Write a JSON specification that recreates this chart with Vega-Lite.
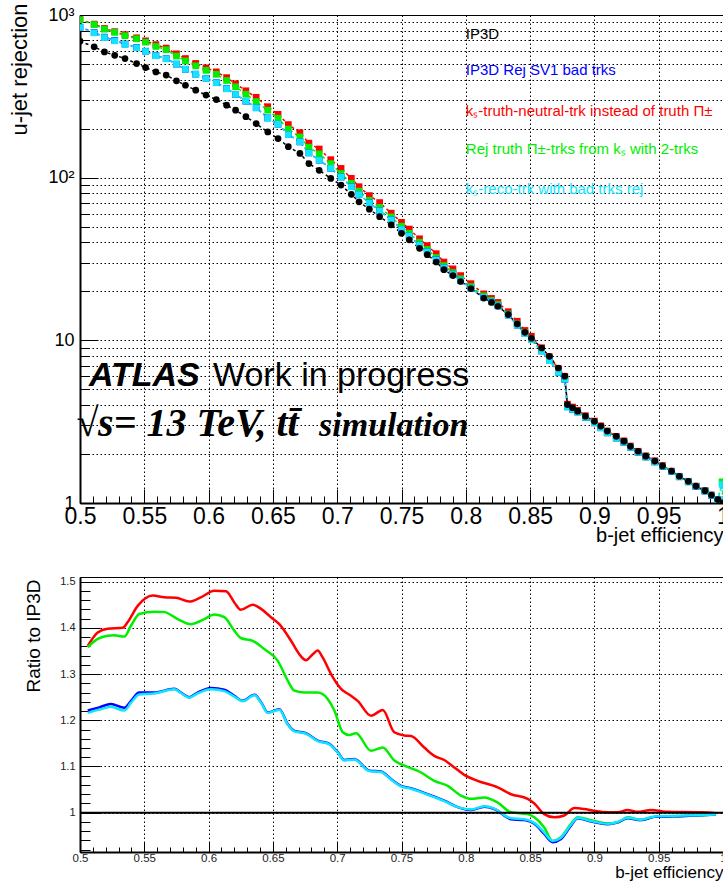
{
"$schema": "https://vega.github.io/schema/vega-lite/v6.json",
"padding": {"left": 7, "top": 2, "right": 0, "bottom": 0},
"spacing": 74,
"bounds": "flush",
"background": "white",
"config": {
 "font": "Liberation Sans",
 "view": {"stroke": "black", "strokeWidth": 1},
 "axis": {"domainColor": "black", "tickColor": "black", "labelColor": "black", "titleColor": "black", "titleFontWeight": "normal", "gridColor": "black", "gridDash": [1.5, 2.5], "gridWidth": 1, "labelOverlap": false, "labelFlush": false, "labelBound": false, "tickWidth": 1}
},
"datasets": {
 "top": [
{"e":0.5,"r":938,"s":"s1"},{"e":0.511,"r":879,"s":"s1"},{"e":0.519,"r":827,"s":"s1"},{"e":0.527,"r":790,"s":"s1"},{"e":0.535,"r":757,"s":"s1"},{"e":0.544,"r":724,"s":"s1"},{"e":0.551,"r":694,"s":"s1"},{"e":0.559,"r":657,"s":"s1"},{"e":0.567,"r":626,"s":"s1"},{"e":0.575,"r":577,"s":"s1"},{"e":0.582,"r":540,"s":"s1"},{"e":0.59,"r":504,"s":"s1"},{"e":0.598,"r":473,"s":"s1"},{"e":0.606,"r":447,"s":"s1"},{"e":0.614,"r":412,"s":"s1"},{"e":0.621,"r":378,"s":"s1"},{"e":0.629,"r":342,"s":"s1"},{"e":0.637,"r":312,"s":"s1"},{"e":0.646,"r":273,"s":"s1"},{"e":0.654,"r":245,"s":"s1"},{"e":0.662,"r":212,"s":"s1"},{"e":0.671,"r":189,"s":"s1"},{"e":0.678,"r":163,"s":"s1"},{"e":0.686,"r":150,"s":"s1"},{"e":0.695,"r":129,"s":"s1"},{"e":0.703,"r":114,"s":"s1"},{"e":0.711,"r":99,"s":"s1"},{"e":0.717,"r":88,"s":"s1"},{"e":0.725,"r":77.6,"s":"s1"},{"e":0.733,"r":70.3,"s":"s1"},{"e":0.742,"r":60.5,"s":"s1"},{"e":0.75,"r":53.1,"s":"s1"},{"e":0.756,"r":48.3,"s":"s1"},{"e":0.764,"r":42.1,"s":"s1"},{"e":0.77,"r":38.2,"s":"s1"},{"e":0.777,"r":34.1,"s":"s1"},{"e":0.783,"r":30.3,"s":"s1"},{"e":0.79,"r":27.5,"s":"s1"},{"e":0.796,"r":25,"s":"s1"},{"e":0.804,"r":22.3,"s":"s1"},{"e":0.814,"r":19.3,"s":"s1"},{"e":0.82,"r":18.1,"s":"s1"},{"e":0.825,"r":17.1,"s":"s1"},{"e":0.833,"r":15,"s":"s1"},{"e":0.84,"r":13.1,"s":"s1"},{"e":0.846,"r":11.5,"s":"s1"},{"e":0.851,"r":10.6,"s":"s1"},{"e":0.859,"r":9,"s":"s1"},{"e":0.865,"r":7.92,"s":"s1"},{"e":0.872,"r":6.7,"s":"s1"},{"e":0.877,"r":6,"s":"s1"},{"e":0.879,"r":4.05,"s":"s1"},{"e":0.883,"r":3.89,"s":"s1"},{"e":0.887,"r":3.71,"s":"s1"},{"e":0.893,"r":3.44,"s":"s1"},{"e":0.9,"r":3.19,"s":"s1"},{"e":0.905,"r":2.98,"s":"s1"},{"e":0.91,"r":2.77,"s":"s1"},{"e":0.917,"r":2.57,"s":"s1"},{"e":0.923,"r":2.41,"s":"s1"},{"e":0.928,"r":2.24,"s":"s1"},{"e":0.934,"r":2.08,"s":"s1"},{"e":0.94,"r":1.95,"s":"s1"},{"e":0.947,"r":1.82,"s":"s1"},{"e":0.953,"r":1.7,"s":"s1"},{"e":0.96,"r":1.57,"s":"s1"},{"e":0.966,"r":1.46,"s":"s1"},{"e":0.973,"r":1.36,"s":"s1"},{"e":0.979,"r":1.27,"s":"s1"},{"e":0.986,"r":1.19,"s":"s1"},{"e":0.991,"r":1.12,"s":"s1"},{"e":0.996,"r":1.05,"s":"s1"},{"e":1,"r":1,"s":"s1"},
{"e":0.5,"r":935,"s":"s2"},{"e":0.511,"r":873,"s":"s2"},{"e":0.519,"r":818,"s":"s2"},{"e":0.527,"r":782,"s":"s2"},{"e":0.535,"r":746,"s":"s2"},{"e":0.544,"r":714,"s":"s2"},{"e":0.551,"r":681,"s":"s2"},{"e":0.559,"r":641,"s":"s2"},{"e":0.567,"r":612,"s":"s2"},{"e":0.575,"r":559,"s":"s2"},{"e":0.582,"r":522,"s":"s2"},{"e":0.59,"r":487,"s":"s2"},{"e":0.598,"r":457,"s":"s2"},{"e":0.606,"r":432,"s":"s2"},{"e":0.614,"r":396,"s":"s2"},{"e":0.621,"r":362,"s":"s2"},{"e":0.629,"r":326,"s":"s2"},{"e":0.637,"r":294,"s":"s2"},{"e":0.646,"r":260,"s":"s2"},{"e":0.654,"r":232,"s":"s2"},{"e":0.662,"r":199,"s":"s2"},{"e":0.671,"r":178,"s":"s2"},{"e":0.678,"r":154,"s":"s2"},{"e":0.686,"r":140,"s":"s2"},{"e":0.695,"r":122,"s":"s2"},{"e":0.703,"r":106,"s":"s2"},{"e":0.711,"r":92.4,"s":"s2"},{"e":0.717,"r":82.7,"s":"s2"},{"e":0.725,"r":72.6,"s":"s2"},{"e":0.733,"r":65.7,"s":"s2"},{"e":0.742,"r":57.4,"s":"s2"},{"e":0.75,"r":50.3,"s":"s2"},{"e":0.756,"r":45.5,"s":"s2"},{"e":0.764,"r":40.1,"s":"s2"},{"e":0.77,"r":36.2,"s":"s2"},{"e":0.777,"r":32.3,"s":"s2"},{"e":0.783,"r":28.8,"s":"s2"},{"e":0.79,"r":26.1,"s":"s2"},{"e":0.796,"r":23.9,"s":"s2"},{"e":0.804,"r":21.4,"s":"s2"},{"e":0.814,"r":18.8,"s":"s2"},{"e":0.82,"r":17.6,"s":"s2"},{"e":0.825,"r":16.6,"s":"s2"},{"e":0.833,"r":14.5,"s":"s2"},{"e":0.84,"r":12.6,"s":"s2"},{"e":0.846,"r":11.2,"s":"s2"},{"e":0.851,"r":10.2,"s":"s2"},{"e":0.859,"r":8.75,"s":"s2"},{"e":0.865,"r":7.54,"s":"s2"},{"e":0.872,"r":6.38,"s":"s2"},{"e":0.877,"r":5.78,"s":"s2"},{"e":0.879,"r":3.92,"s":"s2"},{"e":0.883,"r":3.77,"s":"s2"},{"e":0.887,"r":3.63,"s":"s2"},{"e":0.893,"r":3.37,"s":"s2"},{"e":0.9,"r":3.12,"s":"s2"},{"e":0.905,"r":2.91,"s":"s2"},{"e":0.91,"r":2.71,"s":"s2"},{"e":0.917,"r":2.51,"s":"s2"},{"e":0.923,"r":2.37,"s":"s2"},{"e":0.928,"r":2.21,"s":"s2"},{"e":0.934,"r":2.05,"s":"s2"},{"e":0.94,"r":1.92,"s":"s2"},{"e":0.947,"r":1.79,"s":"s2"},{"e":0.953,"r":1.68,"s":"s2"},{"e":0.96,"r":1.56,"s":"s2"},{"e":0.966,"r":1.45,"s":"s2"},{"e":0.973,"r":1.35,"s":"s2"},{"e":0.979,"r":1.265,"s":"s2"},{"e":0.986,"r":1.185,"s":"s2"},{"e":0.991,"r":1.115,"s":"s2"},{"e":0.996,"r":1.045,"s":"s2"},{"e":0.9993,"r":1.35,"s":"s2"},{"e":1,"r":1,"s":"s2"},
{"e":0.5,"r":842,"s":"s3"},{"e":0.511,"r":780,"s":"s3"},{"e":0.519,"r":731,"s":"s3"},{"e":0.527,"r":698,"s":"s3"},{"e":0.535,"r":663,"s":"s3"},{"e":0.544,"r":631,"s":"s3"},{"e":0.551,"r":599,"s":"s3"},{"e":0.559,"r":563,"s":"s3"},{"e":0.567,"r":539,"s":"s3"},{"e":0.575,"r":499,"s":"s3"},{"e":0.582,"r":464,"s":"s3"},{"e":0.59,"r":433,"s":"s3"},{"e":0.598,"r":408,"s":"s3"},{"e":0.606,"r":384,"s":"s3"},{"e":0.614,"r":353,"s":"s3"},{"e":0.621,"r":325,"s":"s3"},{"e":0.629,"r":295,"s":"s3"},{"e":0.637,"r":269,"s":"s3"},{"e":0.646,"r":233,"s":"s3"},{"e":0.654,"r":213,"s":"s3"},{"e":0.662,"r":184,"s":"s3"},{"e":0.671,"r":166,"s":"s3"},{"e":0.678,"r":142,"s":"s3"},{"e":0.686,"r":128,"s":"s3"},{"e":0.695,"r":114,"s":"s3"},{"e":0.703,"r":101,"s":"s3"},{"e":0.711,"r":88.1,"s":"s3"},{"e":0.717,"r":79,"s":"s3"},{"e":0.725,"r":69.9,"s":"s3"},{"e":0.733,"r":62.7,"s":"s3"},{"e":0.742,"r":55.1,"s":"s3"},{"e":0.75,"r":48.1,"s":"s3"},{"e":0.756,"r":43.7,"s":"s3"},{"e":0.764,"r":38.5,"s":"s3"},{"e":0.77,"r":34.9,"s":"s3"},{"e":0.777,"r":31.3,"s":"s3"},{"e":0.783,"r":27.9,"s":"s3"},{"e":0.79,"r":25.5,"s":"s3"},{"e":0.796,"r":23.3,"s":"s3"},{"e":0.804,"r":20.9,"s":"s3"},{"e":0.814,"r":18.4,"s":"s3"},{"e":0.82,"r":17.3,"s":"s3"},{"e":0.825,"r":16.3,"s":"s3"},{"e":0.833,"r":14.3,"s":"s3"},{"e":0.84,"r":12.4,"s":"s3"},{"e":0.846,"r":11,"s":"s3"},{"e":0.851,"r":10.1,"s":"s3"},{"e":0.859,"r":8.6,"s":"s3"},{"e":0.865,"r":7.5,"s":"s3"},{"e":0.872,"r":6.35,"s":"s3"},{"e":0.877,"r":5.76,"s":"s3"},{"e":0.879,"r":3.9,"s":"s3"},{"e":0.883,"r":3.76,"s":"s3"},{"e":0.887,"r":3.63,"s":"s3"},{"e":0.893,"r":3.36,"s":"s3"},{"e":0.9,"r":3.11,"s":"s3"},{"e":0.905,"r":2.9,"s":"s3"},{"e":0.91,"r":2.7,"s":"s3"},{"e":0.917,"r":2.51,"s":"s3"},{"e":0.923,"r":2.36,"s":"s3"},{"e":0.928,"r":2.2,"s":"s3"},{"e":0.934,"r":2.05,"s":"s3"},{"e":0.94,"r":1.92,"s":"s3"},{"e":0.947,"r":1.79,"s":"s3"},{"e":0.953,"r":1.68,"s":"s3"},{"e":0.96,"r":1.56,"s":"s3"},{"e":0.966,"r":1.45,"s":"s3"},{"e":0.973,"r":1.35,"s":"s3"},{"e":0.979,"r":1.265,"s":"s3"},{"e":0.986,"r":1.185,"s":"s3"},{"e":0.991,"r":1.115,"s":"s3"},{"e":0.996,"r":1.045,"s":"s3"},{"e":1,"r":1,"s":"s3"},
{"e":0.5,"r":838,"s":"s4"},{"e":0.511,"r":777,"s":"s4"},{"e":0.519,"r":727,"s":"s4"},{"e":0.527,"r":694,"s":"s4"},{"e":0.535,"r":660,"s":"s4"},{"e":0.544,"r":629,"s":"s4"},{"e":0.551,"r":597,"s":"s4"},{"e":0.559,"r":562,"s":"s4"},{"e":0.567,"r":538,"s":"s4"},{"e":0.575,"r":499,"s":"s4"},{"e":0.582,"r":464,"s":"s4"},{"e":0.59,"r":432,"s":"s4"},{"e":0.598,"r":407,"s":"s4"},{"e":0.606,"r":383,"s":"s4"},{"e":0.614,"r":352,"s":"s4"},{"e":0.621,"r":325,"s":"s4"},{"e":0.629,"r":295,"s":"s4"},{"e":0.637,"r":269,"s":"s4"},{"e":0.646,"r":232,"s":"s4"},{"e":0.654,"r":213,"s":"s4"},{"e":0.662,"r":184,"s":"s4"},{"e":0.671,"r":166,"s":"s4"},{"e":0.678,"r":142,"s":"s4"},{"e":0.686,"r":128,"s":"s4"},{"e":0.695,"r":114,"s":"s4"},{"e":0.703,"r":101,"s":"s4"},{"e":0.711,"r":87.9,"s":"s4"},{"e":0.717,"r":78.8,"s":"s4"},{"e":0.725,"r":69.8,"s":"s4"},{"e":0.733,"r":62.6,"s":"s4"},{"e":0.742,"r":55,"s":"s4"},{"e":0.75,"r":48,"s":"s4"},{"e":0.756,"r":43.7,"s":"s4"},{"e":0.764,"r":38.5,"s":"s4"},{"e":0.77,"r":34.9,"s":"s4"},{"e":0.777,"r":31.2,"s":"s4"},{"e":0.783,"r":27.9,"s":"s4"},{"e":0.79,"r":25.4,"s":"s4"},{"e":0.796,"r":23.3,"s":"s4"},{"e":0.804,"r":20.9,"s":"s4"},{"e":0.814,"r":18.4,"s":"s4"},{"e":0.82,"r":17.3,"s":"s4"},{"e":0.825,"r":16.3,"s":"s4"},{"e":0.833,"r":14.3,"s":"s4"},{"e":0.84,"r":12.4,"s":"s4"},{"e":0.846,"r":11,"s":"s4"},{"e":0.851,"r":10.1,"s":"s4"},{"e":0.859,"r":8.6,"s":"s4"},{"e":0.865,"r":7.5,"s":"s4"},{"e":0.872,"r":6.35,"s":"s4"},{"e":0.877,"r":5.76,"s":"s4"},{"e":0.879,"r":3.9,"s":"s4"},{"e":0.883,"r":3.76,"s":"s4"},{"e":0.887,"r":3.63,"s":"s4"},{"e":0.893,"r":3.36,"s":"s4"},{"e":0.9,"r":3.11,"s":"s4"},{"e":0.905,"r":2.9,"s":"s4"},{"e":0.91,"r":2.7,"s":"s4"},{"e":0.917,"r":2.51,"s":"s4"},{"e":0.923,"r":2.36,"s":"s4"},{"e":0.928,"r":2.2,"s":"s4"},{"e":0.934,"r":2.05,"s":"s4"},{"e":0.94,"r":1.92,"s":"s4"},{"e":0.947,"r":1.79,"s":"s4"},{"e":0.953,"r":1.68,"s":"s4"},{"e":0.96,"r":1.56,"s":"s4"},{"e":0.966,"r":1.45,"s":"s4"},{"e":0.973,"r":1.35,"s":"s4"},{"e":0.979,"r":1.265,"s":"s4"},{"e":0.986,"r":1.185,"s":"s4"},{"e":0.991,"r":1.115,"s":"s4"},{"e":0.996,"r":1.045,"s":"s4"},{"e":0.9993,"r":1.3,"s":"s4"},{"e":1,"r":1,"s":"s4"},
{"e":0.5,"r":690,"s":"s5"},{"e":0.511,"r":637,"s":"s5"},{"e":0.519,"r":593,"s":"s5"},{"e":0.527,"r":565,"s":"s5"},{"e":0.535,"r":540,"s":"s5"},{"e":0.544,"r":503,"s":"s5"},{"e":0.551,"r":475,"s":"s5"},{"e":0.559,"r":447,"s":"s5"},{"e":0.567,"r":427,"s":"s5"},{"e":0.575,"r":394,"s":"s5"},{"e":0.582,"r":370,"s":"s5"},{"e":0.59,"r":345,"s":"s5"},{"e":0.598,"r":322,"s":"s5"},{"e":0.606,"r":302,"s":"s5"},{"e":0.614,"r":279,"s":"s5"},{"e":0.621,"r":260,"s":"s5"},{"e":0.629,"r":237,"s":"s5"},{"e":0.637,"r":215,"s":"s5"},{"e":0.646,"r":191,"s":"s5"},{"e":0.654,"r":174,"s":"s5"},{"e":0.662,"r":155,"s":"s5"},{"e":0.671,"r":141,"s":"s5"},{"e":0.678,"r":122,"s":"s5"},{"e":0.686,"r":111,"s":"s5"},{"e":0.695,"r":99,"s":"s5"},{"e":0.703,"r":90,"s":"s5"},{"e":0.711,"r":79,"s":"s5"},{"e":0.717,"r":71,"s":"s5"},{"e":0.725,"r":64,"s":"s5"},{"e":0.733,"r":57.6,"s":"s5"},{"e":0.742,"r":51.3,"s":"s5"},{"e":0.75,"r":45.5,"s":"s5"},{"e":0.756,"r":41.5,"s":"s5"},{"e":0.764,"r":36.8,"s":"s5"},{"e":0.77,"r":33.6,"s":"s5"},{"e":0.777,"r":30.3,"s":"s5"},{"e":0.783,"r":27.2,"s":"s5"},{"e":0.79,"r":25,"s":"s5"},{"e":0.796,"r":23,"s":"s5"},{"e":0.804,"r":20.8,"s":"s5"},{"e":0.814,"r":18.2,"s":"s5"},{"e":0.82,"r":17.1,"s":"s5"},{"e":0.825,"r":16.2,"s":"s5"},{"e":0.833,"r":14.4,"s":"s5"},{"e":0.84,"r":12.6,"s":"s5"},{"e":0.846,"r":11.2,"s":"s5"},{"e":0.851,"r":10.3,"s":"s5"},{"e":0.859,"r":8.97,"s":"s5"},{"e":0.865,"r":7.98,"s":"s5"},{"e":0.872,"r":6.76,"s":"s5"},{"e":0.877,"r":6.02,"s":"s5"},{"e":0.879,"r":4.03,"s":"s5"},{"e":0.883,"r":3.85,"s":"s5"},{"e":0.887,"r":3.67,"s":"s5"},{"e":0.893,"r":3.42,"s":"s5"},{"e":0.9,"r":3.18,"s":"s5"},{"e":0.905,"r":2.97,"s":"s5"},{"e":0.91,"r":2.77,"s":"s5"},{"e":0.917,"r":2.57,"s":"s5"},{"e":0.923,"r":2.4,"s":"s5"},{"e":0.928,"r":2.23,"s":"s5"},{"e":0.934,"r":2.08,"s":"s5"},{"e":0.94,"r":1.94,"s":"s5"},{"e":0.947,"r":1.81,"s":"s5"},{"e":0.953,"r":1.69,"s":"s5"},{"e":0.96,"r":1.57,"s":"s5"},{"e":0.966,"r":1.46,"s":"s5"},{"e":0.973,"r":1.36,"s":"s5"},{"e":0.979,"r":1.27,"s":"s5"},{"e":0.986,"r":1.19,"s":"s5"},{"e":0.991,"r":1.12,"s":"s5"},{"e":0.996,"r":1.05,"s":"s5"},{"e":1,"r":1,"s":"s5"}
 ],
 "legend": [
{"e":0.8,"r":768,"s":"s5","t":"IP3D"},
{"e":0.8,"r":458,"s":"s3","t":"IP3D Rej SV1 bad trks"},
{"e":0.8,"r":258,"s":"s1","t":"kₛ-truth-neutral-trk instead of truth Π±"},
{"e":0.8,"r":149,"s":"s2","t":"Rej truth Π±-trks from kₛ with 2-trks"},
{"e":0.8,"r":84.8,"s":"s4","t":"kₛ-reco-trk with bad trks rej"}
 ],
 "ratio": [
{"e":0.506,"v":1.361,"s":"s1"},{"e":0.5138,"v":1.39,"s":"s1"},{"e":0.5215,"v":1.398,"s":"s1"},{"e":0.5332,"v":1.4,"s":"s1"},{"e":0.537,"v":1.412,"s":"s1"},{"e":0.545,"v":1.448,"s":"s1"},{"e":0.5565,"v":1.47,"s":"s1"},{"e":0.5656,"v":1.466,"s":"s1"},{"e":0.5747,"v":1.465,"s":"s1"},{"e":0.585,"v":1.457,"s":"s1"},{"e":0.594,"v":1.466,"s":"s1"},{"e":0.6044,"v":1.48,"s":"s1"},{"e":0.6135,"v":1.479,"s":"s1"},{"e":0.62,"v":1.455,"s":"s1"},{"e":0.625,"v":1.439,"s":"s1"},{"e":0.6343,"v":1.45,"s":"s1"},{"e":0.6408,"v":1.441,"s":"s1"},{"e":0.6485,"v":1.423,"s":"s1"},{"e":0.655,"v":1.408,"s":"s1"},{"e":0.6641,"v":1.372,"s":"s1"},{"e":0.6705,"v":1.343,"s":"s1"},{"e":0.6757,"v":1.33,"s":"s1"},{"e":0.681,"v":1.343,"s":"s1"},{"e":0.6848,"v":1.351,"s":"s1"},{"e":0.6887,"v":1.336,"s":"s1"},{"e":0.6952,"v":1.3,"s":"s1"},{"e":0.703,"v":1.268,"s":"s1"},{"e":0.7107,"v":1.253,"s":"s1"},{"e":0.7159,"v":1.242,"s":"s1"},{"e":0.7263,"v":1.21,"s":"s1"},{"e":0.7354,"v":1.222,"s":"s1"},{"e":0.7444,"v":1.174,"s":"s1"},{"e":0.7522,"v":1.167,"s":"s1"},{"e":0.7574,"v":1.166,"s":"s1"},{"e":0.7677,"v":1.141,"s":"s1"},{"e":0.7755,"v":1.123,"s":"s1"},{"e":0.7833,"v":1.114,"s":"s1"},{"e":0.7911,"v":1.098,"s":"s1"},{"e":0.7988,"v":1.082,"s":"s1"},{"e":0.8092,"v":1.069,"s":"s1"},{"e":0.8248,"v":1.055,"s":"s1"},{"e":0.8352,"v":1.04,"s":"s1"},{"e":0.8481,"v":1.03,"s":"s1"},{"e":0.8533,"v":1.02,"s":"s1"},{"e":0.861,"v":0.997,"s":"s1"},{"e":0.8688,"v":0.99,"s":"s1"},{"e":0.8766,"v":0.994,"s":"s1"},{"e":0.8844,"v":1.01,"s":"s1"},{"e":0.8921,"v":1.008,"s":"s1"},{"e":0.9,"v":1.004,"s":"s1"},{"e":0.9103,"v":1.001,"s":"s1"},{"e":0.9181,"v":1.001,"s":"s1"},{"e":0.9258,"v":1.006,"s":"s1"},{"e":0.9336,"v":1.002,"s":"s1"},{"e":0.944,"v":1.006,"s":"s1"},{"e":0.957,"v":1.002,"s":"s1"},{"e":0.983,"v":1.001,"s":"s1"},{"e":0.9946,"v":0.999,"s":"s1"},
{"e":0.506,"v":1.358,"s":"s2"},{"e":0.5138,"v":1.376,"s":"s2"},{"e":0.5215,"v":1.383,"s":"s2"},{"e":0.5267,"v":1.384,"s":"s2"},{"e":0.5345,"v":1.381,"s":"s2"},{"e":0.5397,"v":1.405,"s":"s2"},{"e":0.5461,"v":1.43,"s":"s2"},{"e":0.5578,"v":1.435,"s":"s2"},{"e":0.5656,"v":1.434,"s":"s2"},{"e":0.576,"v":1.419,"s":"s2"},{"e":0.5863,"v":1.408,"s":"s2"},{"e":0.5967,"v":1.419,"s":"s2"},{"e":0.6044,"v":1.429,"s":"s2"},{"e":0.6122,"v":1.423,"s":"s2"},{"e":0.62,"v":1.394,"s":"s2"},{"e":0.625,"v":1.378,"s":"s2"},{"e":0.6343,"v":1.372,"s":"s2"},{"e":0.6433,"v":1.354,"s":"s2"},{"e":0.6537,"v":1.329,"s":"s2"},{"e":0.6615,"v":1.286,"s":"s2"},{"e":0.6667,"v":1.264,"s":"s2"},{"e":0.6744,"v":1.26,"s":"s2"},{"e":0.6848,"v":1.26,"s":"s2"},{"e":0.6926,"v":1.246,"s":"s2"},{"e":0.6978,"v":1.221,"s":"s2"},{"e":0.7043,"v":1.174,"s":"s2"},{"e":0.7094,"v":1.168,"s":"s2"},{"e":0.7146,"v":1.172,"s":"s2"},{"e":0.7263,"v":1.134,"s":"s2"},{"e":0.7354,"v":1.141,"s":"s2"},{"e":0.7444,"v":1.113,"s":"s2"},{"e":0.7496,"v":1.105,"s":"s2"},{"e":0.7652,"v":1.087,"s":"s2"},{"e":0.7755,"v":1.069,"s":"s2"},{"e":0.7859,"v":1.058,"s":"s2"},{"e":0.7963,"v":1.037,"s":"s2"},{"e":0.804,"v":1.03,"s":"s2"},{"e":0.8144,"v":1.033,"s":"s2"},{"e":0.8248,"v":1.022,"s":"s2"},{"e":0.8352,"v":1.001,"s":"s2"},{"e":0.8481,"v":0.997,"s":"s2"},{"e":0.8533,"v":0.99,"s":"s2"},{"e":0.861,"v":0.968,"s":"s2"},{"e":0.8675,"v":0.939,"s":"s2"},{"e":0.874,"v":0.947,"s":"s2"},{"e":0.8818,"v":0.976,"s":"s2"},{"e":0.887,"v":0.99,"s":"s2"},{"e":0.8974,"v":0.984,"s":"s2"},{"e":0.9103,"v":0.977,"s":"s2"},{"e":0.9181,"v":0.979,"s":"s2"},{"e":0.9258,"v":0.99,"s":"s2"},{"e":0.9362,"v":0.984,"s":"s2"},{"e":0.9466,"v":0.991,"s":"s2"},{"e":0.9699,"v":0.993,"s":"s2"},{"e":0.9946,"v":0.996,"s":"s2"},
{"e":0.506,"v":1.221,"s":"s3"},{"e":0.515,"v":1.228,"s":"s3"},{"e":0.524,"v":1.235,"s":"s3"},{"e":0.5345,"v":1.227,"s":"s3"},{"e":0.5397,"v":1.242,"s":"s3"},{"e":0.5461,"v":1.26,"s":"s3"},{"e":0.5578,"v":1.26,"s":"s3"},{"e":0.5733,"v":1.268,"s":"s3"},{"e":0.5785,"v":1.26,"s":"s3"},{"e":0.585,"v":1.25,"s":"s3"},{"e":0.5915,"v":1.26,"s":"s3"},{"e":0.6019,"v":1.27,"s":"s3"},{"e":0.6122,"v":1.266,"s":"s3"},{"e":0.62,"v":1.253,"s":"s3"},{"e":0.6265,"v":1.242,"s":"s3"},{"e":0.6356,"v":1.255,"s":"s3"},{"e":0.6408,"v":1.239,"s":"s3"},{"e":0.646,"v":1.217,"s":"s3"},{"e":0.655,"v":1.224,"s":"s3"},{"e":0.6615,"v":1.192,"s":"s3"},{"e":0.6667,"v":1.177,"s":"s3"},{"e":0.6757,"v":1.172,"s":"s3"},{"e":0.6848,"v":1.156,"s":"s3"},{"e":0.6939,"v":1.149,"s":"s3"},{"e":0.7004,"v":1.131,"s":"s3"},{"e":0.7055,"v":1.114,"s":"s3"},{"e":0.7133,"v":1.116,"s":"s3"},{"e":0.725,"v":1.091,"s":"s3"},{"e":0.734,"v":1.089,"s":"s3"},{"e":0.7418,"v":1.073,"s":"s3"},{"e":0.7496,"v":1.058,"s":"s3"},{"e":0.7574,"v":1.053,"s":"s3"},{"e":0.7704,"v":1.04,"s":"s3"},{"e":0.7833,"v":1.026,"s":"s3"},{"e":0.7937,"v":1.012,"s":"s3"},{"e":0.804,"v":1.006,"s":"s3"},{"e":0.8144,"v":1.013,"s":"s3"},{"e":0.8222,"v":1.008,"s":"s3"},{"e":0.8352,"v":0.986,"s":"s3"},{"e":0.8456,"v":0.984,"s":"s3"},{"e":0.8533,"v":0.976,"s":"s3"},{"e":0.861,"v":0.954,"s":"s3"},{"e":0.8675,"v":0.936,"s":"s3"},{"e":0.874,"v":0.943,"s":"s3"},{"e":0.8818,"v":0.972,"s":"s3"},{"e":0.887,"v":0.988,"s":"s3"},{"e":0.8974,"v":0.981,"s":"s3"},{"e":0.9103,"v":0.975,"s":"s3"},{"e":0.9181,"v":0.979,"s":"s3"},{"e":0.9258,"v":0.988,"s":"s3"},{"e":0.9362,"v":0.984,"s":"s3"},{"e":0.9466,"v":0.991,"s":"s3"},{"e":0.9699,"v":0.993,"s":"s3"},{"e":0.9946,"v":0.996,"s":"s3"},
{"e":0.506,"v":1.216,"s":"s4"},{"e":0.515,"v":1.223,"s":"s4"},{"e":0.524,"v":1.229,"s":"s4"},{"e":0.5345,"v":1.221,"s":"s4"},{"e":0.5397,"v":1.238,"s":"s4"},{"e":0.5461,"v":1.256,"s":"s4"},{"e":0.5578,"v":1.258,"s":"s4"},{"e":0.5733,"v":1.267,"s":"s4"},{"e":0.5785,"v":1.259,"s":"s4"},{"e":0.585,"v":1.249,"s":"s4"},{"e":0.5915,"v":1.258,"s":"s4"},{"e":0.6019,"v":1.267,"s":"s4"},{"e":0.6122,"v":1.263,"s":"s4"},{"e":0.62,"v":1.251,"s":"s4"},{"e":0.6265,"v":1.241,"s":"s4"},{"e":0.6356,"v":1.254,"s":"s4"},{"e":0.6408,"v":1.238,"s":"s4"},{"e":0.646,"v":1.216,"s":"s4"},{"e":0.655,"v":1.223,"s":"s4"},{"e":0.6615,"v":1.191,"s":"s4"},{"e":0.6667,"v":1.176,"s":"s4"},{"e":0.6757,"v":1.171,"s":"s4"},{"e":0.6848,"v":1.155,"s":"s4"},{"e":0.6939,"v":1.148,"s":"s4"},{"e":0.7004,"v":1.13,"s":"s4"},{"e":0.7055,"v":1.113,"s":"s4"},{"e":0.7133,"v":1.115,"s":"s4"},{"e":0.725,"v":1.09,"s":"s4"},{"e":0.734,"v":1.088,"s":"s4"},{"e":0.7418,"v":1.072,"s":"s4"},{"e":0.7496,"v":1.057,"s":"s4"},{"e":0.7574,"v":1.052,"s":"s4"},{"e":0.7704,"v":1.039,"s":"s4"},{"e":0.7833,"v":1.025,"s":"s4"},{"e":0.7937,"v":1.012,"s":"s4"},{"e":0.804,"v":1.007,"s":"s4"},{"e":0.8144,"v":1.014,"s":"s4"},{"e":0.8222,"v":1.009,"s":"s4"},{"e":0.8352,"v":0.988,"s":"s4"},{"e":0.8456,"v":0.986,"s":"s4"},{"e":0.8533,"v":0.978,"s":"s4"},{"e":0.861,"v":0.957,"s":"s4"},{"e":0.8675,"v":0.939,"s":"s4"},{"e":0.874,"v":0.946,"s":"s4"},{"e":0.8818,"v":0.974,"s":"s4"},{"e":0.887,"v":0.989,"s":"s4"},{"e":0.8974,"v":0.982,"s":"s4"},{"e":0.9103,"v":0.976,"s":"s4"},{"e":0.9181,"v":0.98,"s":"s4"},{"e":0.9258,"v":0.989,"s":"s4"},{"e":0.9362,"v":0.985,"s":"s4"},{"e":0.9466,"v":0.992,"s":"s4"},{"e":0.9699,"v":0.994,"s":"s4"},{"e":0.9946,"v":0.996,"s":"s4"}
 ]
},
"vconcat": [
 {
  "width": 643,
  "height": 488,
  "encoding": {
   "x": {"field": "e", "type": "quantitative", "scale": {"domain": [0.5, 1], "nice": false, "zero": false},
    "axis": {
     "values": [0.5,0.51,0.52,0.53,0.54,0.55,0.56,0.57,0.58,0.59,0.6,0.61,0.62,0.63,0.64,0.65,0.66,0.67,0.68,0.69,0.7,0.71,0.72,0.73,0.74,0.75,0.76,0.77,0.78,0.79,0.8,0.81,0.82,0.83,0.84,0.85,0.86,0.87,0.88,0.89,0.9,0.91,0.92,0.93,0.94,0.95,0.96,0.97,0.98,0.99,1],
     "labelExpr": "abs(datum.value*20 - round(datum.value*20)) < 0.001 ? format(datum.value, '.2~f') : ''",
     "labelFontSize": 23, "labelPadding": 16, "labelOverlap": false, "labelFlush": false,
     "tickSize": {"condition": {"test": "abs(datum.value*20 - round(datum.value*20)) < 0.001", "value": -14}, "value": -7},
     "gridOpacity": {"condition": {"test": "abs(datum.value*20 - round(datum.value*20)) < 0.001", "value": 1}, "value": 0},
     "domainWidth": 2,
     "title": "b-jet efficiency", "titleFontSize": 20, "titleAnchor": "end", "titleAlign": "right", "titleX": 643, "titleY": 38, "titleBaseline": "alphabetic"
    }},
   "y": {"field": "r", "type": "quantitative", "scale": {"type": "log", "domain": [1, 1000], "nice": false},
    "axis": {
     "values": [1,2,3,4,5,6,7,8,9,10,20,30,40,50,60,70,80,90,100,200,300,400,500,600,700,800,900,1000],
     "labelExpr": "datum.value == 1 ? '1' : datum.value == 10 ? '10' : datum.value == 100 ? '10²' : datum.value == 1000 ? '10³' : ''",
     "labelFontSize": 18, "labelPadding": 24, "labelOverlap": false,
     "tickSize": {"condition": {"test": "abs(log(datum.value)/LN10 - round(log(datum.value)/LN10)) < 0.001", "value": -18}, "value": -9},
     "domainWidth": 2,
     "title": "u-jet rejection", "titleFontSize": 22, "titleAngle": 270, "titleAnchor": "end", "titleAlign": "right", "titleBaseline": "alphabetic", "titleX": -54, "titleY": -12
    }}
  },
  "layer": [
   {
    "data": {"name": "top"},
    "mark": {"type": "line", "strokeDash": [3, 3], "strokeWidth": 1.5, "clip": true},
    "encoding": {
     "color": {"field": "s", "type": "nominal", "legend": null, "scale": {"domain": ["s1","s2","s3","s4","s5"], "range": ["#ff0000","#00ee00","#0000ff","#10e4ff","#000000"]}}
    }
   },
   {
    "data": {"name": "top"},
    "mark": {"type": "point", "filled": true, "opacity": 1, "size": 45, "clip": true},
    "encoding": {
     "color": {"field": "s", "type": "nominal", "legend": null},
     "shape": {"field": "s", "type": "nominal", "legend": null, "scale": {"domain": ["s1","s2","s3","s4","s5"], "range": ["square","square","square","square","circle"]}}
    }
   },
   {
    "data": {"name": "legend"},
    "mark": {"type": "text", "align": "left", "baseline": "middle", "fontSize": 15},
    "encoding": {
     "text": {"field": "t"},
     "color": {"field": "s", "type": "nominal", "legend": null}
    }
   },
   {
    "data": {"values": [{"e": 0.507, "r": 5.22}]},
    "mark": {"type": "text", "text": "ATLAS", "align": "left", "baseline": "alphabetic", "fontSize": 34, "fontWeight": "bold", "fontStyle": "italic", "color": "black"}
   },
   {
    "data": {"values": [{"e": 0.6034, "r": 5.22}]},
    "mark": {"type": "text", "text": "Work in progress", "align": "left", "baseline": "alphabetic", "fontSize": 34, "color": "black"}
   },
   {
    "data": {"values": [{"e": 0.497, "r": 2.576}]},
    "mark": {"type": "text", "text": "√s= 13 TeV, tt̄", "align": "left", "baseline": "alphabetic", "fontSize": 40, "font": "Liberation Serif", "fontWeight": "bold", "fontStyle": "italic", "color": "black"}
   },
   {
    "data": {"values": [{"e": 0.6859, "r": 2.576}]},
    "mark": {"type": "text", "text": "simulation", "align": "left", "baseline": "alphabetic", "fontSize": 34, "font": "Liberation Serif", "fontWeight": "bold", "fontStyle": "italic", "color": "black"}
   }
  ]
 },
 {
  "width": 643,
  "height": 275,
  "encoding": {
   "x": {"field": "e", "type": "quantitative", "scale": {"domain": [0.5, 1], "nice": false, "zero": false},
    "axis": {
     "values": [0.5,0.51,0.52,0.53,0.54,0.55,0.56,0.57,0.58,0.59,0.6,0.61,0.62,0.63,0.64,0.65,0.66,0.67,0.68,0.69,0.7,0.71,0.72,0.73,0.74,0.75,0.76,0.77,0.78,0.79,0.8,0.81,0.82,0.83,0.84,0.85,0.86,0.87,0.88,0.89,0.9,0.91,0.92,0.93,0.94,0.95,0.96,0.97,0.98,0.99,1],
     "labelExpr": "abs(datum.value*20 - round(datum.value*20)) < 0.001 ? format(datum.value, '.2~f') : ''",
     "labelFontSize": 11.5, "labelPadding": 10, "labelColor": "#222222", "labelOverlap": false, "labelFlush": false,
     "tickSize": {"condition": {"test": "abs(datum.value*20 - round(datum.value*20)) < 0.001", "value": -10}, "value": -5},
     "gridOpacity": {"condition": {"test": "abs(datum.value*20 - round(datum.value*20)) < 0.001", "value": 1}, "value": 0},
     "domainWidth": 2,
     "title": "b-jet efficiency", "titleFontSize": 17, "titleAnchor": "end", "titleAlign": "right", "titleX": 643, "titleY": 25, "titleBaseline": "alphabetic"
    }},
   "y": {"field": "v", "type": "quantitative", "scale": {"domain": [0.915, 1.51], "nice": false, "zero": false},
    "axis": {
     "values": [0.92,0.94,0.96,0.98,1,1.02,1.04,1.06,1.08,1.1,1.12,1.14,1.16,1.18,1.2,1.22,1.24,1.26,1.28,1.3,1.32,1.34,1.36,1.38,1.4,1.42,1.44,1.46,1.48,1.5],
     "labelExpr": "abs(datum.value*10 - round(datum.value*10)) < 0.001 ? format(datum.value, '.1~f') : ''",
     "labelFontSize": 11, "labelPadding": 25, "labelColor": "#222222", "labelOverlap": false,
     "tickSize": {"condition": {"test": "abs(datum.value*10 - round(datum.value*10)) < 0.001", "value": -20}, "value": -10},
     "gridOpacity": {"condition": {"test": "abs(datum.value*10 - round(datum.value*10)) < 0.001", "value": 1}, "value": 0},
     "domainWidth": 2,
     "title": "Ratio to IP3D", "titleFontSize": 19, "titleAngle": 270, "titleAnchor": "end", "titleAlign": "right", "titleBaseline": "alphabetic", "titleX": -41, "titleY": 2
    }}
  },
  "layer": [
   {
    "data": {"name": "ratio"},
    "mark": {"type": "line", "strokeWidth": 2.5, "interpolate": "monotone", "clip": true},
    "encoding": {
     "color": {"field": "s", "type": "nominal", "legend": null}
    }
   },
   {
    "data": {"values": [{"e": 0.5, "v": 1}]},
    "mark": {"type": "rule", "strokeWidth": 2, "color": "black"},
    "encoding": {"x2": {"datum": 1}}
   }
  ]
 }
]
}
